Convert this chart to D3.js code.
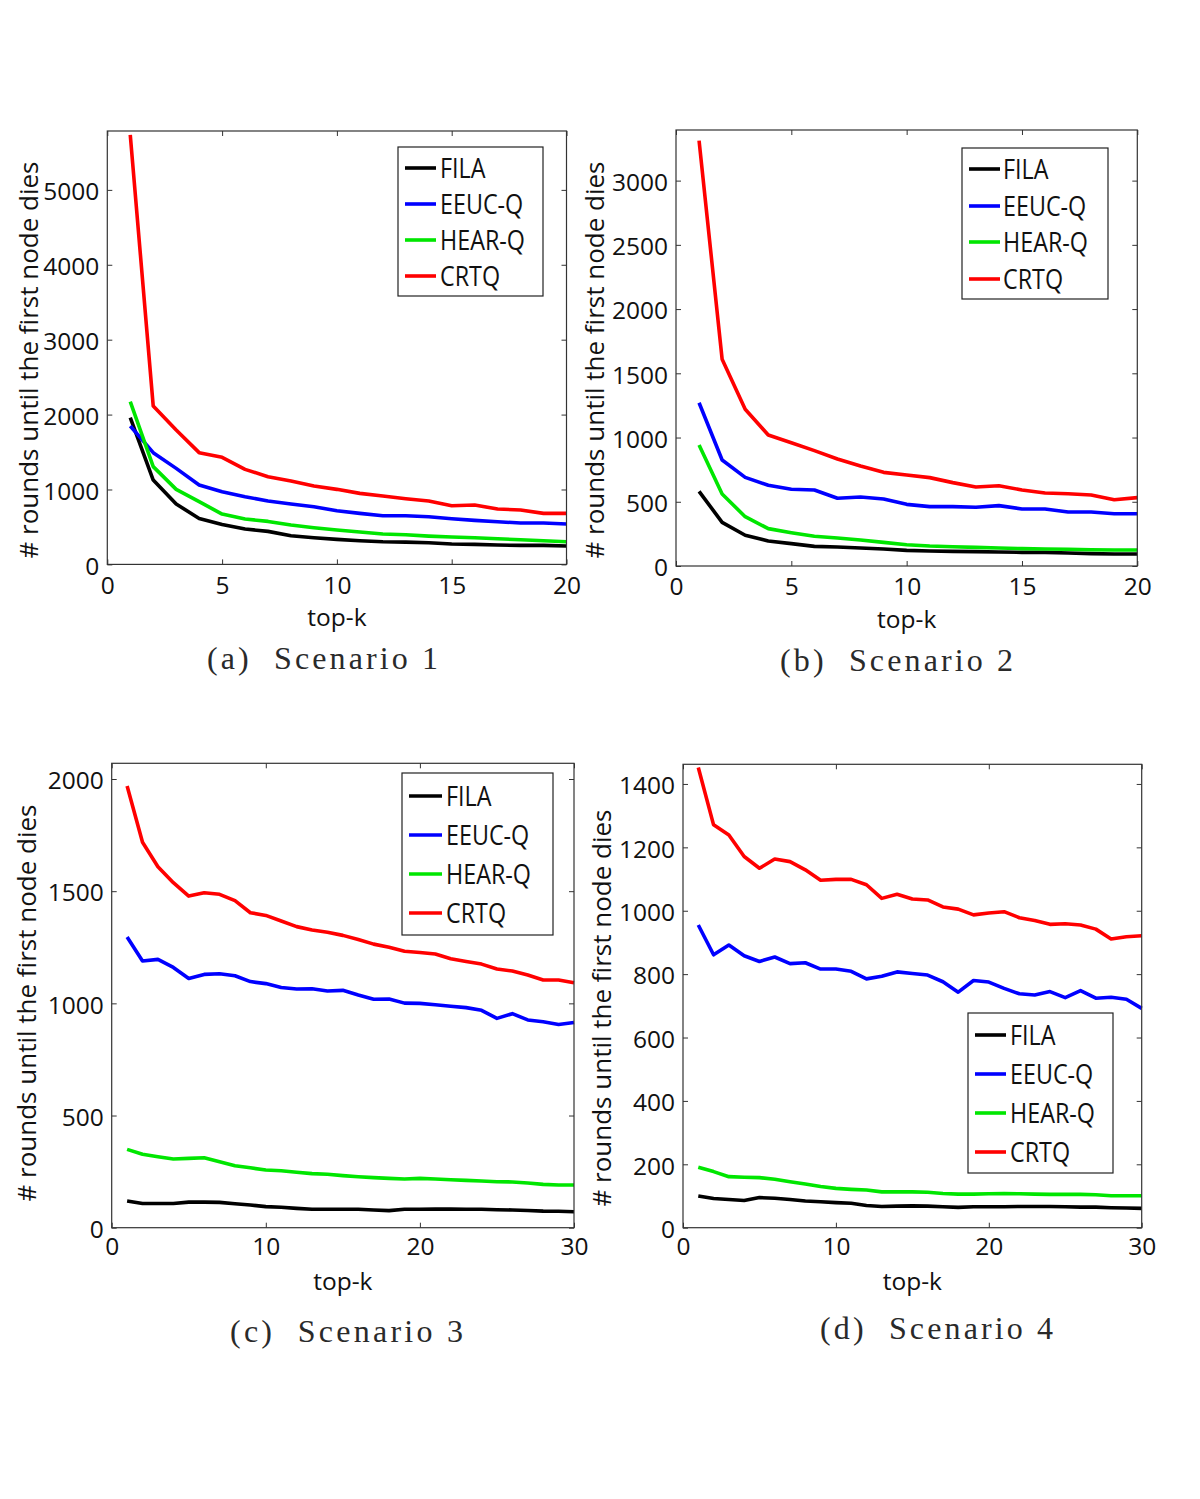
<!DOCTYPE html>
<html>
<head>
<meta charset="utf-8">
<script src="https://cdn.jsdelivr.net/npm/d3@7/dist/d3.min.js"></script>
<style>
  html, body { margin: 0; padding: 0; background: #fff; }
  svg { display: block; }
  .tick text { font-family: "Open Sans", sans-serif; font-size: 24.5px; fill: #111; }
</style>
</head>
<body>
<svg id="chart" width="1200" height="1499"></svg>
<script>
// ---------------- data ----------------
const seriesNames = ["FILA", "EEUC-Q", "HEAR-Q", "CRTQ"];
const seriesColors = ["#000000", "#0000ff", "#00e600", "#ff0000"];

const topK20 = [1,2,3,4,5,6,7,8,9,10,11,12,13,14,15,16,17,18,19,20];
const topK30 = [1,2,3,4,5,6,7,8,9,10,11,12,13,14,15,16,17,18,19,20,21,22,23,24,25,26,27,28,29,30];

// Scenario 1
const s1FILA = [1959,1126,806,614,534,472,441,383,356,334,316,303,298,289,272,267,258,254,254,245];
const s1EEUC = [1848,1492,1282,1060,971,904,846,806,770,717,681,650,650,637,610,588,570,552,552,539];
const s1HEAR = [2173,1305,1002,837,672,606,574,525,490,459,432,405,396,378,365,356,343,329,316,303];
const s1CRTQ = [5735,2115,1795,1492,1429,1269,1171,1113,1046,1002,948,913,877,846,784,793,739,726,681,681];

// Scenario 2
const s2FILA = [581,340,239,195,174,153,148,140,132,122,117,114,112,109,106,106,101,96,93,93];
const s2EEUC = [1271,825,690,628,597,592,527,537,522,480,462,462,457,470,444,444,420,420,407,407];
const s2HEAR = [942,560,384,291,259,231,218,202,184,166,156,150,145,140,135,132,130,127,125,125];
const s2CRTQ = [3311,1609,1220,1020,960,898,833,778,729,708,688,649,615,625,592,568,563,553,516,532];

// Scenario 3
const s3FILA = [119,108,108,108,114,114,113,107,101,94,91,86,82,82,82,82,79,76,82,82,83,83,82,82,80,79,77,74,73,71];
const s3EEUC = [1296,1189,1196,1160,1111,1129,1132,1123,1097,1088,1071,1064,1065,1055,1058,1037,1018,1019,1001,1000,994,987,981,969,933,954,926,918,906,915];
const s3HEAR = [349,327,316,306,309,312,294,276,267,257,254,247,241,238,232,227,223,220,217,220,217,214,211,208,205,204,199,193,190,190];
const s3CRTQ = [1969,1718,1609,1538,1478,1493,1486,1458,1404,1392,1367,1342,1327,1317,1303,1285,1264,1250,1232,1227,1220,1199,1187,1175,1153,1144,1126,1104,1104,1092];

// Scenario 4
const s4FILA = [100,92,89,86,95,93,89,84,82,79,77,70,67,68,69,68,66,64,66,66,66,67,67,67,66,65,65,63,62,61];
const s4EEUC = [955,861,892,858,840,854,833,836,816,816,809,785,793,807,802,797,776,743,780,775,755,738,734,745,726,748,724,727,721,692];
const s4HEAR = [191,177,161,159,158,153,145,138,130,124,121,119,113,113,113,112,108,106,106,107,108,107,106,105,105,105,104,101,101,101];
const s4CRTQ = [1452,1271,1239,1171,1134,1163,1155,1129,1096,1099,1099,1082,1039,1052,1037,1034,1012,1005,987,993,997,978,969,957,959,955,942,911,918,921];

const yTicks1 = [0,1000,2000,3000,4000,5000];
const yTicks2 = [0,500,1000,1500,2000,2500,3000];
const yTicks3 = [0,500,1000,1500,2000];
const yTicks4 = [0,200,400,600,800,1000,1200,1400];
const xTicks20 = [0,5,10,15,20];
const xTicks30 = [0,10,20,30];

const xLabel = "top-k";
const yLabel = "# rounds until the first node dies";
const captions = ["(a)  Scenario 1", "(b)  Scenario 2", "(c)  Scenario 3", "(d)  Scenario 4"];

// ---------------- layout ----------------
const panels = [
  { x: topK20, series: [s1FILA, s1EEUC, s1HEAR, s1CRTQ], xMax: 20, yMax: 5786, xTicks: xTicks20, yTicks: yTicks1,
    box: [107.3, 131, 566.5, 564.4], ylabX: 29, ylabY: 360, xlabY: 626, capY: 669, capX: [207, 438],
    legend: { x: 398, y: 147, w: 145, h: 149, rows: [168, 204, 240, 276], l0: 405, l1: 436, tx: 440 } },
  { x: topK20, series: [s2FILA, s2EEUC, s2HEAR, s2CRTQ], xMax: 20, yMax: 3394, xTicks: xTicks20, yTicks: yTicks2,
    box: [676, 130, 1137.3, 566], ylabX: 595, ylabY: 360, xlabY: 628, capY: 671, capX: [780, 1013],
    legend: { x: 962, y: 148, w: 146, h: 151, rows: [169, 206, 242, 279], l0: 969, l1: 1000, tx: 1003 } },
  { x: topK30, series: [s3FILA, s3EEUC, s3HEAR, s3CRTQ], xMax: 30, yMax: 2070, xTicks: xTicks30, yTicks: yTicks3,
    box: [111.7, 763.3, 574, 1227.7], ylabX: 27, ylabY: 1003, xlabY: 1290, capY: 1342, capX: [230, 463],
    legend: { x: 402, y: 773, w: 151, h: 162, rows: [796, 835, 874, 913], l0: 409, l1: 442, tx: 446 } },
  { x: topK30, series: [s4FILA, s4EEUC, s4HEAR, s4CRTQ], xMax: 30, yMax: 1462, xTicks: xTicks30, yTicks: yTicks4,
    box: [683, 764.3, 1141.7, 1227.7], ylabX: 602, ylabY: 1008, xlabY: 1290, capY: 1339, capX: [820, 1053],
    legend: { x: 968, y: 1013, w: 145, h: 160, rows: [1035, 1074, 1113, 1152], l0: 975, l1: 1006, tx: 1010 } }
];

const svg = d3.select("#chart");
svg.append("rect").attr("width", 1200).attr("height", 1499).attr("fill", "#fff");

panels.forEach((p, pi) => {
  const [L, T, R, B] = p.box;
  const x = d3.scaleLinear().domain([0, p.xMax]).range([L, R]);
  const y = d3.scaleLinear().domain([0, p.yMax]).range([B, T]);
  const g = svg.append("g");

  // lines
  const line = d3.line().x(d => x(d[0])).y(d => y(d[1]));
  p.series.forEach((vals, si) => {
    g.append("path")
      .datum(p.x.map((k, i) => [k, vals[i]]))
      .attr("fill", "none")
      .attr("stroke", seriesColors[si])
      .attr("stroke-width", 3.6)
      .attr("stroke-linejoin", "round")
      .attr("d", line);
  });

  // axes (inward ticks, mirrored)
  const ax = g.append("g").attr("transform", `translate(0,${B})`)
    .call(d3.axisBottom(x).tickValues(p.xTicks).tickFormat(d3.format("d")).tickSizeInner(-5).tickSizeOuter(0).tickPadding(pi < 2 ? 12 : 10));
  const axT = g.append("g").attr("transform", `translate(0,${T})`)
    .call(d3.axisTop(x).tickValues(p.xTicks).tickFormat("").tickSizeInner(-5).tickSizeOuter(0));
  const ay = g.append("g").attr("transform", `translate(${L},0)`)
    .call(d3.axisLeft(y).tickValues(p.yTicks).tickFormat(d3.format("d")).tickSizeInner(-5).tickSizeOuter(0).tickPadding(8));
  const ayR = g.append("g").attr("transform", `translate(${R},0)`)
    .call(d3.axisRight(y).tickValues(p.yTicks).tickFormat("").tickSizeInner(-5).tickSizeOuter(0));
  [ax, axT, ay, ayR].forEach(a => {
    a.select(".domain").remove();
    a.selectAll(".tick line").attr("stroke", "#333").attr("stroke-width", 1);
  });
  ay.selectAll(".tick text").attr("dy", "0.4em");

  // box
  g.append("rect").attr("x", L).attr("y", T).attr("width", R - L).attr("height", B - T)
    .attr("fill", "none").attr("stroke", "#333").attr("stroke-width", 1.2);

  // axis labels
  g.append("text").attr("x", (L + R) / 2).attr("y", p.xlabY)
    .attr("text-anchor", "middle")
    .style("font-family", "'Open Sans', sans-serif").style("font-size", "24.5px").attr("fill", "#111")
    .text(xLabel);
  g.append("text")
    .attr("transform", `translate(${p.ylabX},${p.ylabY}) rotate(-90)`)
    .attr("text-anchor", "middle").attr("dy", "0.36em")
    .style("font-family", "'Open Sans', sans-serif").style("font-size", "26px").attr("fill", "#111")
    .text(yLabel);

  // legend
  const lg = p.legend;
  g.append("rect").attr("x", lg.x).attr("y", lg.y).attr("width", lg.w).attr("height", lg.h)
    .attr("fill", "#fff").attr("stroke", "#222").attr("stroke-width", 1.2);
  seriesNames.forEach((name, si) => {
    g.append("line").attr("x1", lg.l0).attr("x2", lg.l1).attr("y1", lg.rows[si]).attr("y2", lg.rows[si])
      .attr("stroke", seriesColors[si]).attr("stroke-width", 3.6);
    g.append("text")
      .attr("transform", `translate(${lg.tx},${lg.rows[si]}) scale(0.88,1)`)
      .attr("dy", "0.36em")
      .style("font-family", "'Open Sans', sans-serif").style("font-size", "26.5px").attr("fill", "#111")
      .text(name);
  });

  // caption
  g.append("text").attr("x", p.capX[0]).attr("y", p.capY)
    .attr("textLength", p.capX[1] - p.capX[0]).attr("lengthAdjust", "spacing")
    .style("white-space", "pre")
    .style("font-family", "'Liberation Serif', serif").style("font-size", "32px").attr("fill", "#2a2a2a")
    .text(captions[pi]);
});
</script>
</body>
</html>
